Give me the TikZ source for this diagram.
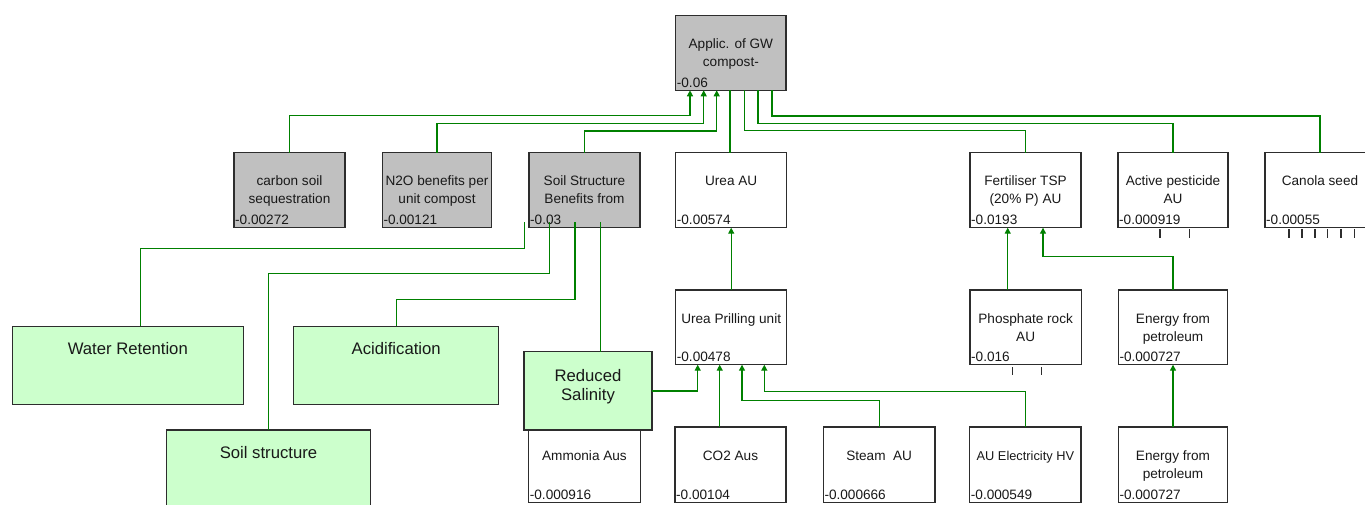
\documentclass[tikz,border=0pt]{standalone}
\usepackage{fontspec}
\setmainfont{Liberation Sans}
\usetikzlibrary{arrows.meta}

\definecolor{boxgray}{RGB}{192,192,192}
\definecolor{boxgreen}{RGB}{204,255,204}
\definecolor{edge}{RGB}{45,45,45}
\definecolor{wire}{RGB}{0,128,0}

% a process box given by its left, top, right and bottom edges (in px)
\newcommand\unitbox[6]{%
  \node[unit,#6,minimum width={(#4)-(#2)},minimum height={(#5)-(#3)}]
    (#1) at ({((#2)+(#4))/2},{((#3)+(#5))/2}) {};}
% one or two lines of centred text in a box
\newcommand\oneline[2]{\node[lbl,anchor=base] (#1-a) at ([yshift=-33pt]#1.north) {#2};}
\newcommand\twolines[3]{%
  \node[lbl,anchor=base] (#1-a) at ([yshift=-33pt]#1.north) {#2};
  \node[lbl,anchor=base] (#1-b) at ([yshift=-51pt]#1.north) {#3};}
% score written in the lower left corner of a box
\newcommand\boxval[2]{\node[lbl,anchor=base west] (#1-v) at ([xshift=1pt,yshift=3.3pt]#1.south west) {#2};}

\begin{document}
\begin{tikzpicture}[x=1pt,y=-1pt,
  unit/.style={rectangle,draw=edge,line width=1.3pt,inner sep=0pt,outer sep=0pt},
  grey/.style={fill=boxgray},
  plain/.style={fill=white},
  leaf/.style={fill=boxgreen},
  lbl/.style={inner sep=0pt,text=black!90,font=\fontsize{13.6}{16}\selectfont},
  big/.style={inner sep=0pt,text=black!90,font=\fontsize{16.7}{20}\selectfont},
  flow/.style={draw=wire,line width=1.3pt},
  into/.style={flow,-{Triangle[width=6pt,length=6pt]}},
  stub/.style={draw=edge,line width=1.3pt}]

\useasboundingbox (0,0) rectangle (1365,504);
\fill[white] (0,0) rectangle (1365,504);
\clip (0,0) rectangle (1365,504);

% ---- boxes ----
\unitbox{T}{675.7}{15.7}{786}{90.3}{grey}
\unitbox{CS}{234}{152.7}{345}{227.7}{grey}
\unitbox{N2}{382.3}{152.7}{491.7}{227.7}{grey}
\unitbox{SB}{529}{152.7}{640}{227.7}{grey}
\unitbox{UA}{675.7}{152.7}{786.7}{227.7}{plain}
\unitbox{FT}{970}{152.7}{1081}{227.7}{plain}
\unitbox{AP}{1118}{152.7}{1228}{227.7}{plain}
\unitbox{CA}{1265}{152.7}{1375}{227.7}{plain}
\unitbox{UP}{675.7}{290}{786.7}{364.7}{plain}
\unitbox{PR}{970}{290}{1081.3}{364.7}{plain}
\unitbox{E1}{1118.3}{290}{1227.7}{364.7}{plain}
\unitbox{WR}{12.3}{326.3}{243.3}{404.3}{leaf}
\unitbox{AC}{293.7}{326.3}{498.7}{404.3}{leaf}
\unitbox{SS}{166.3}{430}{370.7}{530}{leaf}
\unitbox{AM}{528.7}{427}{640.2}{502.7}{plain}
\unitbox{RS}{524}{351.7}{652}{430}{leaf}
\unitbox{CO}{675}{427}{786}{502.7}{plain}
\unitbox{ST}{823.3}{427}{935}{502.7}{plain}
\unitbox{EL}{969.7}{427}{1081}{502.7}{plain}
\unitbox{E2}{1118.3}{427}{1227.7}{502.7}{plain}

% ---- texts ----
\twolines{T}{Applic. of GW}{compost-}\boxval{T}{-0.06}
\twolines{CS}{carbon soil}{sequestration}\boxval{CS}{-0.00272}
\twolines{N2}{N2O benefits per}{unit compost}\boxval{N2}{-0.00121}
\twolines{SB}{Soil Structure}{Benefits from}\boxval{SB}{-0.03}
\oneline{UA}{Urea AU}\boxval{UA}{-0.00574}
\twolines{FT}{Fertiliser TSP}{(20\% P) AU}\boxval{FT}{-0.0193}
\twolines{AP}{Active pesticide}{AU}\boxval{AP}{-0.000919}
\oneline{CA}{Canola seed}\boxval{CA}{-0.00055}
\oneline{UP}{Urea Prilling unit}\boxval{UP}{-0.00478}
\twolines{PR}{Phosphate rock}{AU}\boxval{PR}{-0.016}
\twolines{E1}{Energy from}{petroleum}\boxval{E1}{-0.000727}
\oneline{AM}{Ammonia Aus}\boxval{AM}{-0.000916}
\oneline{CO}{CO2 Aus}\boxval{CO}{-0.00104}
\oneline{ST}{Steam\ \ AU}\boxval{ST}{-0.000666}
\node[lbl,anchor=base,font=\fontsize{12.8}{16}\selectfont] (EL-a) at ([yshift=-33pt]EL.north) {AU Electricity HV};
\boxval{EL}{-0.000549}
\twolines{E2}{Energy from}{petroleum}\boxval{E2}{-0.000727}

\node[big,anchor=base] (WR-a) at ([yshift=-28pt]WR.north) {Water Retention};
\node[big,anchor=base] (AC-a) at ([yshift=-28pt]AC.north) {Acidification};
\node[big,anchor=base] (SS-a) at ([yshift=-28.3pt]SS.north) {Soil structure};
\node[big,anchor=base] (RS-a) at ([yshift=-29.3pt]RS.north) {Reduced};
\node[big,anchor=base] (RS-b) at ([yshift=-48.3pt]RS.north) {Salinity};

% ---- ports ----
\coordinate (Tin1) at (690,90.3);
\coordinate (Tin2) at (703.7,90.3);
\coordinate (Tin3) at (716.7,90.3);
\coordinate (Tout1) at (730,90.3);
\coordinate (Tout2) at (744.7,90.3);
\coordinate (Tout3) at (758,90.3);
\coordinate (Tout4) at (772,90.3);
\coordinate (FTin1) at (1007.7,227.7);
\coordinate (FTin2) at (1043,227.7);
\coordinate (PRout) at (1007.7,290);
\coordinate (SBo1) at (524.3,222);
\coordinate (SBo2) at (549.7,222);
\coordinate (SBo3) at (575,222);
\coordinate (SBo4) at (600.7,222);
\coordinate (WRin) at (140.5,326.3);
\coordinate (UPin1) at (697.7,364.7);
\coordinate (UPin2) at (719.7,364.7);
\coordinate (UPin3) at (742,364.7);
\coordinate (UPin4) at (764.3,364.7);
\coordinate (COout) at (719.7,427);

% ---- connectors ----
\draw[into] (CS.north) -- ++(0,-37) -| (Tin1);
\draw[into] (N2.north) -- ++(0,-29.4) -| (Tin2);
\draw[into] (SB.north) -- ++(0,-21.7) -| (Tin3);
\draw[flow] (Tout1) -- (Tout1 |- UA.north);
\draw[flow] (Tout2) -- ++(0,40.4) -| (FT.north);
\draw[flow] (Tout3) -- ++(0,33) -| (AP.north);
\draw[flow] (Tout4) -- ++(0,25.7) -| (CA.north);

\draw[into] (UP.north) -- (UA.south);
\draw[into] (PRout) -- (FTin1);
\draw[into] (E1.north) -- ++(0,-33.3) -| (FTin2);
\draw[into] (E2.north) -- (E1.south);

\draw[flow] (SBo1) -- ++(0,26.3) -| (WRin);
\draw[flow] (SBo2) -- ++(0,51.7) -| (SS.north);
\draw[flow] (SBo3) -- ++(0,77.7) -| (AC.north);
\draw[flow] (SBo4) -- (SBo4 |- RS.north);

\draw[into] (RS.east) -| (UPin1);
\draw[into] (COout) -- (UPin2);
\draw[into] (ST.north) -- ++(0,-26.7) -| (UPin3);
\draw[into] (EL.north) -- ++(0,-35.5) -| (UPin4);

% ---- open input stubs ----
\foreach \x in {1160,1189.3}
  \draw[stub] (\x,229.3) -- (\x,238.3);
\foreach \x in {1289,1302,1315,1327.7,1341,1354.3}
  \draw[stub] (\x,229.3) -- (\x,238.3);
\foreach \x in {1012.3,1041.7}
  \draw[stub] (\x,367) -- (\x,375);
\end{tikzpicture}
\end{document}
